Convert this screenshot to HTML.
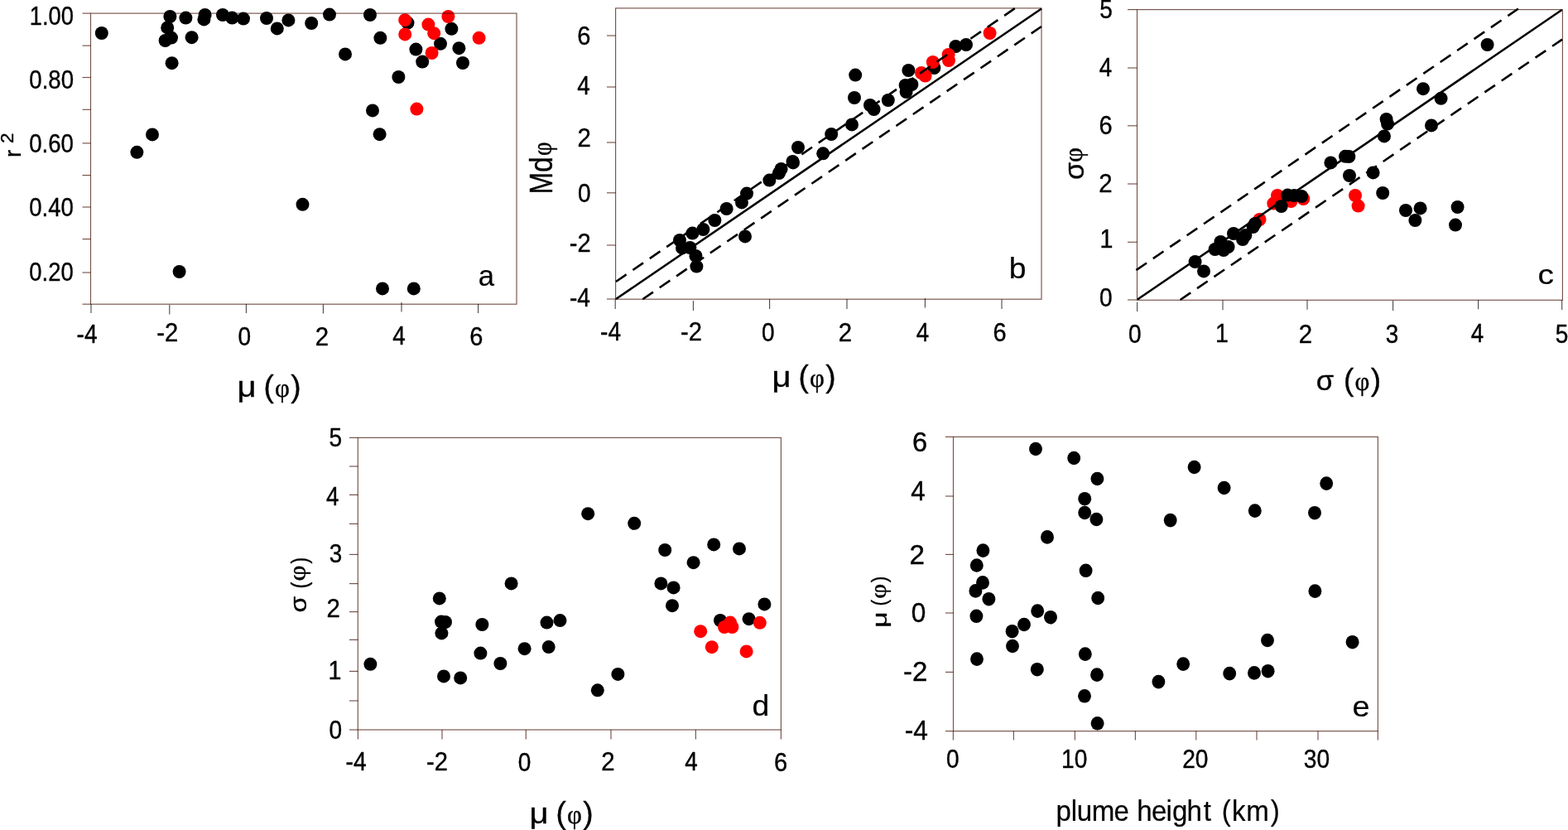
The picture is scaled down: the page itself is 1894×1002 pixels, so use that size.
<!DOCTYPE html>
<html><head><meta charset="utf-8"><title>figure</title>
<style>html,body{margin:0;padding:0;background:#fff;overflow:hidden}svg{display:block}
text{fill:#000;stroke:#000;stroke-width:0.4px;stroke-linejoin:round;font-family:"Liberation Sans",sans-serif;font-kerning:none;white-space:pre}
text.p{stroke-width:0.2px}
text.q{stroke-width:0.35px}</style>
</head><body>
<svg width="1894" height="1002" viewBox="0 0 1894 1002">
<rect width="1894" height="1002" fill="#fff"/>
<line x1="99.5" y1="16.1" x2="109.5" y2="16.1" stroke="#77524a" stroke-width="1.15"/>
<line x1="99.5" y1="55.1" x2="109.5" y2="55.1" stroke="#77524a" stroke-width="1.15"/>
<line x1="99.5" y1="93.5" x2="109.5" y2="93.5" stroke="#77524a" stroke-width="1.15"/>
<line x1="99.5" y1="132.3" x2="109.5" y2="132.3" stroke="#77524a" stroke-width="1.15"/>
<line x1="99.5" y1="172.9" x2="109.5" y2="172.9" stroke="#77524a" stroke-width="1.15"/>
<line x1="99.5" y1="211.6" x2="109.5" y2="211.6" stroke="#77524a" stroke-width="1.15"/>
<line x1="99.5" y1="250" x2="109.5" y2="250" stroke="#77524a" stroke-width="1.15"/>
<line x1="99.5" y1="288.6" x2="109.5" y2="288.6" stroke="#77524a" stroke-width="1.15"/>
<line x1="99.5" y1="329" x2="109.5" y2="329" stroke="#77524a" stroke-width="1.15"/>
<line x1="99.5" y1="367.2" x2="109.5" y2="367.2" stroke="#77524a" stroke-width="1.15"/>
<line x1="110" y1="367" x2="110" y2="378" stroke="#484848" stroke-width="1.1"/>
<line x1="204.8" y1="368" x2="204.8" y2="379.6" stroke="#484848" stroke-width="1.1"/>
<line x1="297.4" y1="367" x2="297.4" y2="378" stroke="#484848" stroke-width="1.1"/>
<line x1="390.4" y1="367.6" x2="390.4" y2="378.6" stroke="#484848" stroke-width="1.1"/>
<line x1="485" y1="365" x2="485" y2="376.6" stroke="#484848" stroke-width="1.1"/>
<line x1="577.6" y1="367" x2="577.6" y2="378" stroke="#484848" stroke-width="1.1"/>
<ellipse cx="122.8" cy="40" rx="8.0" ry="8.0" fill="#000"/>
<ellipse cx="205.4" cy="20" rx="8.0" ry="8.0" fill="#000"/>
<ellipse cx="202.2" cy="33.4" rx="8.0" ry="8.0" fill="#000"/>
<ellipse cx="199.6" cy="49" rx="8.0" ry="8.0" fill="#000"/>
<ellipse cx="207" cy="45.6" rx="8.0" ry="8.0" fill="#000"/>
<ellipse cx="207.6" cy="76.2" rx="8.0" ry="8.0" fill="#000"/>
<ellipse cx="224.4" cy="21.6" rx="8.0" ry="8.0" fill="#000"/>
<ellipse cx="231.6" cy="45.2" rx="8.0" ry="8.0" fill="#000"/>
<ellipse cx="247.6" cy="18" rx="8.0" ry="8.0" fill="#000"/>
<ellipse cx="246.4" cy="23.4" rx="8.0" ry="8.0" fill="#000"/>
<ellipse cx="269" cy="18" rx="8.0" ry="8.0" fill="#000"/>
<ellipse cx="280.4" cy="21.6" rx="8.0" ry="8.0" fill="#000"/>
<ellipse cx="294" cy="22.6" rx="8.0" ry="8.0" fill="#000"/>
<ellipse cx="322" cy="22" rx="8.0" ry="8.0" fill="#000"/>
<ellipse cx="334.8" cy="34.4" rx="8.0" ry="8.0" fill="#000"/>
<ellipse cx="348.4" cy="24.4" rx="8.0" ry="8.0" fill="#000"/>
<ellipse cx="376.2" cy="28" rx="8.0" ry="8.0" fill="#000"/>
<ellipse cx="184" cy="162.4" rx="8.0" ry="8.0" fill="#000"/>
<ellipse cx="165.4" cy="183.8" rx="8.0" ry="8.0" fill="#000"/>
<ellipse cx="398" cy="17.6" rx="8.0" ry="8.0" fill="#000"/>
<ellipse cx="447" cy="18" rx="8.0" ry="8.0" fill="#000"/>
<ellipse cx="417" cy="65.4" rx="8.0" ry="8.0" fill="#000"/>
<ellipse cx="459.4" cy="45.8" rx="8.0" ry="8.0" fill="#000"/>
<ellipse cx="492.5" cy="27.6" rx="8.0" ry="8.0" fill="#000"/>
<ellipse cx="545.4" cy="34.8" rx="8.0" ry="8.0" fill="#000"/>
<ellipse cx="532" cy="52.8" rx="8.0" ry="8.0" fill="#000"/>
<ellipse cx="502.4" cy="59.6" rx="8.0" ry="8.0" fill="#000"/>
<ellipse cx="554.4" cy="58.2" rx="8.0" ry="8.0" fill="#000"/>
<ellipse cx="510.2" cy="74.6" rx="8.0" ry="8.0" fill="#000"/>
<ellipse cx="559" cy="76" rx="8.0" ry="8.0" fill="#000"/>
<ellipse cx="481.4" cy="93" rx="8.0" ry="8.0" fill="#000"/>
<ellipse cx="450" cy="133.4" rx="8.0" ry="8.0" fill="#000"/>
<ellipse cx="458.6" cy="162.2" rx="8.0" ry="8.0" fill="#000"/>
<ellipse cx="365.5" cy="246.8" rx="8.0" ry="8.0" fill="#000"/>
<ellipse cx="216.6" cy="328" rx="8.0" ry="8.0" fill="#000"/>
<ellipse cx="462" cy="348.4" rx="8.0" ry="8.0" fill="#000"/>
<ellipse cx="499.8" cy="348.4" rx="8.0" ry="8.0" fill="#000"/>
<ellipse cx="489.2" cy="24.2" rx="8.0" ry="8.0" fill="#ff0000"/>
<ellipse cx="489.2" cy="41.4" rx="8.0" ry="8.0" fill="#ff0000"/>
<ellipse cx="541.4" cy="20" rx="8.0" ry="8.0" fill="#ff0000"/>
<ellipse cx="517.4" cy="29.6" rx="8.0" ry="8.0" fill="#ff0000"/>
<ellipse cx="524.2" cy="40.2" rx="8.0" ry="8.0" fill="#ff0000"/>
<ellipse cx="578.6" cy="45.8" rx="8.0" ry="8.0" fill="#ff0000"/>
<ellipse cx="521.6" cy="64" rx="8.0" ry="8.0" fill="#ff0000"/>
<ellipse cx="503.4" cy="131.6" rx="8.0" ry="8.0" fill="#ff0000"/>
<text transform="matrix(0.8587 0 0 1.0000 35.82 30.00)" font-size="31.80">1.00</text>
<text transform="matrix(0.8669 0 0 1.0000 35.32 107.10)" font-size="31.80">0.80</text>
<text transform="matrix(0.8669 0 0 1.0000 35.22 183.70)" font-size="31.80">0.60</text>
<text transform="matrix(0.8652 0 0 1.0000 35.33 260.90)" font-size="31.80">0.40</text>
<text transform="matrix(0.8618 0 0 1.0000 35.33 339.30)" font-size="31.80">0.20</text>
<text transform="matrix(0.8840 0 0 1.0000 92.59 414.10)" font-size="31.80">-4</text>
<text transform="matrix(0.9170 0 0 1.0000 189.32 412.40)" font-size="31.80">-2</text>
<text transform="matrix(0.8820 0 0 1.0000 287.40 416.80)" font-size="31.80">0</text>
<text transform="matrix(0.9250 0 0 1.0000 380.72 416.50)" font-size="31.80">2</text>
<text transform="matrix(0.8740 0 0 1.0000 474.26 416.10)" font-size="31.80">4</text>
<text transform="matrix(0.9130 0 0 1.0000 567.33 416.60)" font-size="31.80">6</text>
<text class="p" transform="matrix(0.9992 0 0 1.0000 577.63 345.36)" font-size="34.68">a</text>
<text class="q"><tspan x="286.50" y="479.00" font-size="34.5" textLength="23.06" lengthAdjust="spacingAndGlyphs">μ</tspan><tspan> </tspan><tspan x="318.41" y="479.00" font-size="37">(</tspan><tspan x="332.10" y="479.00" font-size="31" font-family="'Liberation Serif', serif">φ</tspan><tspan x="351.28" y="479.00" font-size="37">)</tspan></text>
<text class="q" transform="translate(25.10 0) rotate(-90)"><tspan x="-189.96" y="0.00" font-size="28">r</tspan><tspan> </tspan><tspan x="-172.93" y="-9.40" font-size="22.5">2</tspan></text>
<line x1="733" y1="43" x2="743.6" y2="43" stroke="#77524a" stroke-width="1.15"/>
<line x1="733" y1="105" x2="743.6" y2="105" stroke="#77524a" stroke-width="1.15"/>
<line x1="733" y1="172" x2="743.6" y2="172" stroke="#77524a" stroke-width="1.15"/>
<line x1="733" y1="232.8" x2="743.6" y2="232.8" stroke="#77524a" stroke-width="1.15"/>
<line x1="733" y1="296" x2="743.6" y2="296" stroke="#77524a" stroke-width="1.15"/>
<line x1="733" y1="361" x2="743.6" y2="361" stroke="#77524a" stroke-width="1.15"/>
<line x1="743.2" y1="361" x2="743.2" y2="373" stroke="#484848" stroke-width="1.1"/>
<line x1="837.4" y1="363" x2="837.4" y2="375" stroke="#484848" stroke-width="1.1"/>
<line x1="929.6" y1="361" x2="929.6" y2="373" stroke="#484848" stroke-width="1.1"/>
<line x1="1023" y1="361" x2="1023" y2="373" stroke="#484848" stroke-width="1.1"/>
<line x1="1117.4" y1="360" x2="1117.4" y2="371.6" stroke="#484848" stroke-width="1.1"/>
<line x1="1210" y1="361.6" x2="1210" y2="373" stroke="#484848" stroke-width="1.1"/>
<ellipse cx="964" cy="178" rx="8.0" ry="8.0" fill="#000"/>
<ellipse cx="957.5" cy="195" rx="8.0" ry="8.0" fill="#000"/>
<ellipse cx="994.2" cy="185.3" rx="8.0" ry="8.0" fill="#000"/>
<ellipse cx="1004.2" cy="162" rx="8.0" ry="8.0" fill="#000"/>
<ellipse cx="1029" cy="150.4" rx="8.0" ry="8.0" fill="#000"/>
<ellipse cx="1032" cy="118" rx="8.0" ry="8.0" fill="#000"/>
<ellipse cx="1033.2" cy="90.6" rx="8.0" ry="8.0" fill="#000"/>
<ellipse cx="1051" cy="127" rx="8.0" ry="8.0" fill="#000"/>
<ellipse cx="1055.6" cy="132" rx="8.0" ry="8.0" fill="#000"/>
<ellipse cx="1072.8" cy="121" rx="8.0" ry="8.0" fill="#000"/>
<ellipse cx="1094.6" cy="111" rx="8.0" ry="8.0" fill="#000"/>
<ellipse cx="1093.6" cy="103" rx="8.0" ry="8.0" fill="#000"/>
<ellipse cx="1101.4" cy="102" rx="8.0" ry="8.0" fill="#000"/>
<ellipse cx="1097.4" cy="85" rx="8.0" ry="8.0" fill="#000"/>
<ellipse cx="1128.4" cy="82" rx="8.0" ry="8.0" fill="#000"/>
<ellipse cx="1154.4" cy="56" rx="8.0" ry="8.0" fill="#000"/>
<ellipse cx="1167" cy="54" rx="8.0" ry="8.0" fill="#000"/>
<ellipse cx="821" cy="290" rx="8.0" ry="8.0" fill="#000"/>
<ellipse cx="824" cy="299.4" rx="8.0" ry="8.0" fill="#000"/>
<ellipse cx="833.4" cy="299" rx="8.0" ry="8.0" fill="#000"/>
<ellipse cx="836.4" cy="281.6" rx="8.0" ry="8.0" fill="#000"/>
<ellipse cx="840.4" cy="309" rx="8.0" ry="8.0" fill="#000"/>
<ellipse cx="841.4" cy="321.6" rx="8.0" ry="8.0" fill="#000"/>
<ellipse cx="849.4" cy="277" rx="8.0" ry="8.0" fill="#000"/>
<ellipse cx="863.4" cy="266" rx="8.0" ry="8.0" fill="#000"/>
<ellipse cx="877.6" cy="252" rx="8.0" ry="8.0" fill="#000"/>
<ellipse cx="896" cy="244.4" rx="8.0" ry="8.0" fill="#000"/>
<ellipse cx="902" cy="233.6" rx="8.0" ry="8.0" fill="#000"/>
<ellipse cx="900" cy="285.4" rx="8.0" ry="8.0" fill="#000"/>
<ellipse cx="929.4" cy="217.6" rx="8.0" ry="8.0" fill="#000"/>
<ellipse cx="941" cy="209" rx="8.0" ry="8.0" fill="#000"/>
<ellipse cx="943.6" cy="204" rx="8.0" ry="8.0" fill="#000"/>
<ellipse cx="958" cy="196.4" rx="8.0" ry="8.0" fill="#000"/>
<ellipse cx="1113" cy="88" rx="8.0" ry="8.0" fill="#ff0000"/>
<ellipse cx="1117.6" cy="91.6" rx="8.0" ry="8.0" fill="#ff0000"/>
<ellipse cx="1126.8" cy="75" rx="8.0" ry="8.0" fill="#ff0000"/>
<ellipse cx="1145.6" cy="66" rx="8.0" ry="8.0" fill="#ff0000"/>
<ellipse cx="1146" cy="73" rx="8.0" ry="8.0" fill="#ff0000"/>
<ellipse cx="1195.6" cy="40" rx="8.0" ry="8.0" fill="#ff0000"/>
<line x1="744" y1="361" x2="1258" y2="10.5" stroke="#000" stroke-width="2.6"/>
<line x1="744" y1="340" x2="1226" y2="10" stroke="#000" stroke-width="2.6" stroke-dasharray="15.3 9.42"/>
<line x1="776.3" y1="361.2" x2="1258" y2="32" stroke="#000" stroke-width="2.6" stroke-dasharray="15.3 9.42"/>
<text transform="matrix(0.9130 0 0 1.0000 697.23 54.20)" font-size="31.80">6</text>
<text transform="matrix(0.8740 0 0 1.0000 697.36 114.40)" font-size="31.80">4</text>
<text transform="matrix(0.9250 0 0 1.0000 697.42 176.80)" font-size="31.80">2</text>
<text transform="matrix(0.8820 0 0 1.0000 698.10 244.10)" font-size="31.80">0</text>
<text transform="matrix(0.9170 0 0 1.0000 687.82 303.90)" font-size="31.80">-2</text>
<text transform="matrix(0.8840 0 0 1.0000 687.99 369.50)" font-size="31.80">-4</text>
<text transform="matrix(0.8840 0 0 1.0000 725.09 411.10)" font-size="31.80">-4</text>
<text transform="matrix(0.9170 0 0 1.0000 821.92 411.10)" font-size="31.80">-2</text>
<text transform="matrix(0.8820 0 0 1.0000 920.00 411.50)" font-size="31.80">0</text>
<text transform="matrix(0.9250 0 0 1.0000 1012.82 411.50)" font-size="31.80">2</text>
<text transform="matrix(0.8740 0 0 1.0000 1106.66 411.50)" font-size="31.80">4</text>
<text transform="matrix(0.9130 0 0 1.0000 1199.53 411.80)" font-size="31.80">6</text>
<text class="p" transform="matrix(1.0511 0 0 1.0000 1218.69 336.25)" font-size="35.54">b</text>
<text class="q"><tspan x="932.50" y="467.20" font-size="34.5" textLength="23.06" lengthAdjust="spacingAndGlyphs">μ</tspan><tspan> </tspan><tspan x="964.41" y="467.20" font-size="37">(</tspan><tspan x="978.10" y="467.20" font-size="31" font-family="'Liberation Serif', serif">φ</tspan><tspan x="997.28" y="467.20" font-size="37">)</tspan></text>
<text transform="matrix(0 -0.87 1 0 667.2 232)"><tspan x="-2.6" font-size="39" textLength="30" lengthAdjust="spacingAndGlyphs">M</tspan><tspan x="27.5" font-size="39">d</tspan><tspan x="50.5" y="-1.5" font-size="33" font-family="'Liberation Serif', serif">φ</tspan></text>
<line x1="1362" y1="11.6" x2="1373.5" y2="11.6" stroke="#77524a" stroke-width="1.15"/>
<line x1="1362" y1="82" x2="1373.5" y2="82" stroke="#77524a" stroke-width="1.15"/>
<line x1="1362" y1="151.8" x2="1373.5" y2="151.8" stroke="#77524a" stroke-width="1.15"/>
<line x1="1362" y1="222" x2="1373.5" y2="222" stroke="#77524a" stroke-width="1.15"/>
<line x1="1362" y1="292.3" x2="1373.5" y2="292.3" stroke="#77524a" stroke-width="1.15"/>
<line x1="1362" y1="362" x2="1373.5" y2="362" stroke="#77524a" stroke-width="1.15"/>
<line x1="1373.6" y1="364.7" x2="1373.6" y2="376" stroke="#484848" stroke-width="1.1"/>
<line x1="1477" y1="362.5" x2="1477" y2="374.3" stroke="#484848" stroke-width="1.1"/>
<line x1="1579" y1="362.3" x2="1579" y2="373.7" stroke="#484848" stroke-width="1.1"/>
<line x1="1682.6" y1="363" x2="1682.6" y2="375" stroke="#484848" stroke-width="1.1"/>
<line x1="1785.6" y1="362" x2="1785.6" y2="373.2" stroke="#484848" stroke-width="1.1"/>
<line x1="1886.7" y1="362" x2="1886.7" y2="374" stroke="#484848" stroke-width="1.1"/>
<ellipse cx="1521.5" cy="265" rx="8.0" ry="8.0" fill="#ff0000"/>
<ellipse cx="1796.6" cy="54" rx="8.0" ry="8.0" fill="#000"/>
<ellipse cx="1719" cy="107.2" rx="8.0" ry="8.0" fill="#000"/>
<ellipse cx="1740.6" cy="118.8" rx="8.0" ry="8.0" fill="#000"/>
<ellipse cx="1674.6" cy="144" rx="8.0" ry="8.0" fill="#000"/>
<ellipse cx="1676" cy="149.6" rx="8.0" ry="8.0" fill="#000"/>
<ellipse cx="1729" cy="151.4" rx="8.0" ry="8.0" fill="#000"/>
<ellipse cx="1672" cy="164.4" rx="8.0" ry="8.0" fill="#000"/>
<ellipse cx="1625" cy="188.8" rx="8.0" ry="8.0" fill="#000"/>
<ellipse cx="1629.4" cy="189" rx="8.0" ry="8.0" fill="#000"/>
<ellipse cx="1607.4" cy="196.4" rx="8.0" ry="8.0" fill="#000"/>
<ellipse cx="1443.6" cy="316" rx="8.0" ry="8.0" fill="#000"/>
<ellipse cx="1454" cy="327.4" rx="8.0" ry="8.0" fill="#000"/>
<ellipse cx="1467.6" cy="301" rx="8.0" ry="8.0" fill="#000"/>
<ellipse cx="1474.4" cy="292" rx="8.0" ry="8.0" fill="#000"/>
<ellipse cx="1478" cy="302" rx="8.0" ry="8.0" fill="#000"/>
<ellipse cx="1483.6" cy="298" rx="8.0" ry="8.0" fill="#000"/>
<ellipse cx="1490" cy="282" rx="8.0" ry="8.0" fill="#000"/>
<ellipse cx="1501" cy="289" rx="8.0" ry="8.0" fill="#000"/>
<ellipse cx="1504.4" cy="284" rx="8.0" ry="8.0" fill="#000"/>
<ellipse cx="1513.6" cy="274" rx="8.0" ry="8.0" fill="#000"/>
<ellipse cx="1516" cy="270" rx="8.0" ry="8.0" fill="#000"/>
<ellipse cx="1630" cy="212" rx="8.0" ry="8.0" fill="#000"/>
<ellipse cx="1658.6" cy="208.4" rx="8.0" ry="8.0" fill="#000"/>
<ellipse cx="1670.2" cy="233" rx="8.0" ry="8.0" fill="#000"/>
<ellipse cx="1698" cy="254" rx="8.0" ry="8.0" fill="#000"/>
<ellipse cx="1715.6" cy="251.4" rx="8.0" ry="8.0" fill="#000"/>
<ellipse cx="1709.4" cy="266" rx="8.0" ry="8.0" fill="#000"/>
<ellipse cx="1760.6" cy="250" rx="8.0" ry="8.0" fill="#000"/>
<ellipse cx="1758" cy="271.6" rx="8.0" ry="8.0" fill="#000"/>
<ellipse cx="1538.3" cy="245.6" rx="8.0" ry="8.0" fill="#ff0000"/>
<ellipse cx="1543" cy="236" rx="8.0" ry="8.0" fill="#ff0000"/>
<ellipse cx="1559.5" cy="243" rx="8.0" ry="8.0" fill="#ff0000"/>
<ellipse cx="1574.3" cy="240" rx="8.0" ry="8.0" fill="#ff0000"/>
<ellipse cx="1637" cy="236" rx="8.0" ry="8.0" fill="#ff0000"/>
<ellipse cx="1640.6" cy="248.6" rx="8.0" ry="8.0" fill="#ff0000"/>
<ellipse cx="1547.7" cy="249" rx="8.0" ry="8.0" fill="#000"/>
<ellipse cx="1555.3" cy="235.6" rx="8.0" ry="8.0" fill="#000"/>
<ellipse cx="1563.3" cy="236" rx="8.0" ry="8.0" fill="#000"/>
<ellipse cx="1572.2" cy="237" rx="8.0" ry="8.0" fill="#000"/>
<line x1="1374" y1="361.5" x2="1886.5" y2="12" stroke="#000" stroke-width="2.6"/>
<line x1="1372.4" y1="326.1" x2="1834" y2="10.5" stroke="#000" stroke-width="2.6" stroke-dasharray="15.3 9.42"/>
<line x1="1425.6" y1="362" x2="1887" y2="47.6" stroke="#000" stroke-width="2.6" stroke-dasharray="15.3 9.42"/>
<text transform="matrix(0.8820 0 0 1.0000 1328.23 22.00)" font-size="31.80">5</text>
<text transform="matrix(0.8740 0 0 1.0000 1327.86 91.90)" font-size="31.80">4</text>
<text transform="matrix(0.9130 0 0 1.0000 1327.53 161.90)" font-size="31.80">6</text>
<text transform="matrix(0.9250 0 0 1.0000 1327.22 232.30)" font-size="31.80">2</text>
<text transform="matrix(0.9000 0 0 1.0000 1328.62 299.20)" font-size="31.80">1</text>
<text transform="matrix(0.8820 0 0 1.0000 1328.10 369.50)" font-size="31.80">0</text>
<text transform="matrix(0.8820 0 0 1.0000 1363.10 413.50)" font-size="31.80">0</text>
<text transform="matrix(0.9000 0 0 1.0000 1468.02 413.10)" font-size="31.80">1</text>
<text transform="matrix(0.9250 0 0 1.0000 1568.72 413.50)" font-size="31.80">2</text>
<text transform="matrix(0.8760 0 0 1.0000 1673.74 413.50)" font-size="31.80">3</text>
<text transform="matrix(0.8740 0 0 1.0000 1776.66 413.30)" font-size="31.80">4</text>
<text transform="matrix(0.8820 0 0 1.0000 1878.68 413.50)" font-size="31.80">5</text>
<text class="p" transform="matrix(1.1860 0 0 1.0000 1857.44 342.78)" font-size="32.86">c</text>
<text class="q"><tspan x="1589.74" y="471.00" font-size="32.5" textLength="21.46" lengthAdjust="spacingAndGlyphs">σ</tspan><tspan> </tspan><tspan x="1622.91" y="471.00" font-size="37">(</tspan><tspan x="1636.60" y="471.00" font-size="31" font-family="'Liberation Serif', serif">φ</tspan><tspan x="1655.78" y="471.00" font-size="37">)</tspan></text>
<text transform="matrix(0 -1 1 0 1309.2 216)"><tspan x="-1.1" font-size="34">σ</tspan><tspan x="20" y="-1.8" font-size="31" font-family="'Liberation Serif', serif">φ</tspan></text>
<line x1="422" y1="528.4" x2="432.3" y2="528.4" stroke="#77524a" stroke-width="1.15"/>
<line x1="422" y1="563" x2="432.3" y2="563" stroke="#77524a" stroke-width="1.15"/>
<line x1="422" y1="597.4" x2="432.3" y2="597.4" stroke="#77524a" stroke-width="1.15"/>
<line x1="422" y1="632.4" x2="432.3" y2="632.4" stroke="#77524a" stroke-width="1.15"/>
<line x1="422" y1="669.4" x2="432.3" y2="669.4" stroke="#77524a" stroke-width="1.15"/>
<line x1="422" y1="704.6" x2="432.3" y2="704.6" stroke="#77524a" stroke-width="1.15"/>
<line x1="422" y1="738.6" x2="432.3" y2="738.6" stroke="#77524a" stroke-width="1.15"/>
<line x1="422" y1="772.4" x2="432.3" y2="772.4" stroke="#77524a" stroke-width="1.15"/>
<line x1="422" y1="810.4" x2="432.3" y2="810.4" stroke="#77524a" stroke-width="1.15"/>
<line x1="422" y1="846" x2="432.3" y2="846" stroke="#77524a" stroke-width="1.15"/>
<line x1="422" y1="881" x2="432.3" y2="881" stroke="#77524a" stroke-width="1.15"/>
<line x1="432.4" y1="881" x2="432.4" y2="892.5" stroke="#77524a" stroke-width="1.15"/>
<line x1="534" y1="881" x2="534" y2="892.5" stroke="#77524a" stroke-width="1.15"/>
<line x1="635.3" y1="881" x2="635.3" y2="892.5" stroke="#77524a" stroke-width="1.15"/>
<line x1="738" y1="881" x2="738" y2="892.5" stroke="#77524a" stroke-width="1.15"/>
<line x1="840.4" y1="881" x2="840.4" y2="892.5" stroke="#77524a" stroke-width="1.15"/>
<line x1="943.4" y1="881" x2="943.4" y2="892.5" stroke="#77524a" stroke-width="1.15"/>
<ellipse cx="710.2" cy="620.2" rx="8.0" ry="8.0" fill="#000"/>
<ellipse cx="766.2" cy="631.8" rx="8.0" ry="8.0" fill="#000"/>
<ellipse cx="803.2" cy="664" rx="8.0" ry="8.0" fill="#000"/>
<ellipse cx="837.6" cy="679.2" rx="8.0" ry="8.0" fill="#000"/>
<ellipse cx="862.2" cy="657.4" rx="8.0" ry="8.0" fill="#000"/>
<ellipse cx="893" cy="662.4" rx="8.0" ry="8.0" fill="#000"/>
<ellipse cx="447.4" cy="801.8" rx="8.0" ry="8.0" fill="#000"/>
<ellipse cx="530.8" cy="722.4" rx="8.0" ry="8.0" fill="#000"/>
<ellipse cx="617.6" cy="704.4" rx="8.0" ry="8.0" fill="#000"/>
<ellipse cx="533" cy="750.6" rx="8.0" ry="8.0" fill="#000"/>
<ellipse cx="538" cy="751" rx="8.0" ry="8.0" fill="#000"/>
<ellipse cx="533.4" cy="764.4" rx="8.0" ry="8.0" fill="#000"/>
<ellipse cx="582.4" cy="754" rx="8.0" ry="8.0" fill="#000"/>
<ellipse cx="660.5" cy="751.6" rx="8.0" ry="8.0" fill="#000"/>
<ellipse cx="676.5" cy="749.1" rx="8.0" ry="8.0" fill="#000"/>
<ellipse cx="580.4" cy="788.6" rx="8.0" ry="8.0" fill="#000"/>
<ellipse cx="633.6" cy="783.2" rx="8.0" ry="8.0" fill="#000"/>
<ellipse cx="662.7" cy="781.1" rx="8.0" ry="8.0" fill="#000"/>
<ellipse cx="604.4" cy="801" rx="8.0" ry="8.0" fill="#000"/>
<ellipse cx="536" cy="816.4" rx="8.0" ry="8.0" fill="#000"/>
<ellipse cx="556.2" cy="818.4" rx="8.0" ry="8.0" fill="#000"/>
<ellipse cx="746.4" cy="813.9" rx="8.0" ry="8.0" fill="#000"/>
<ellipse cx="721.8" cy="833.3" rx="8.0" ry="8.0" fill="#000"/>
<ellipse cx="798.4" cy="704.4" rx="8.0" ry="8.0" fill="#000"/>
<ellipse cx="813.6" cy="709.4" rx="8.0" ry="8.0" fill="#000"/>
<ellipse cx="812" cy="731.2" rx="8.0" ry="8.0" fill="#000"/>
<ellipse cx="923.4" cy="729.4" rx="8.0" ry="8.0" fill="#000"/>
<ellipse cx="870" cy="749" rx="8.0" ry="8.0" fill="#000"/>
<ellipse cx="904.6" cy="747.2" rx="8.0" ry="8.0" fill="#000"/>
<ellipse cx="882" cy="751.6" rx="8.0" ry="8.0" fill="#ff0000"/>
<ellipse cx="875" cy="757" rx="8.0" ry="8.0" fill="#ff0000"/>
<ellipse cx="884.4" cy="757" rx="8.0" ry="8.0" fill="#ff0000"/>
<ellipse cx="917.8" cy="751.8" rx="8.0" ry="8.0" fill="#ff0000"/>
<ellipse cx="846.2" cy="762.2" rx="8.0" ry="8.0" fill="#ff0000"/>
<ellipse cx="859.8" cy="781.2" rx="8.0" ry="8.0" fill="#ff0000"/>
<ellipse cx="901.6" cy="786.4" rx="8.0" ry="8.0" fill="#ff0000"/>
<text transform="matrix(0.8820 0 0 1.0000 397.53 538.80)" font-size="31.80">5</text>
<text transform="matrix(0.8740 0 0 1.0000 394.06 610.30)" font-size="31.80">4</text>
<text transform="matrix(0.8760 0 0 1.0000 397.64 678.70)" font-size="31.80">3</text>
<text transform="matrix(0.9250 0 0 1.0000 394.62 744.90)" font-size="31.80">2</text>
<text transform="matrix(0.9000 0 0 1.0000 396.62 820.30)" font-size="31.80">1</text>
<text transform="matrix(0.8820 0 0 1.0000 397.50 892.10)" font-size="31.80">0</text>
<text transform="matrix(0.8840 0 0 1.0000 417.59 930.40)" font-size="31.80">-4</text>
<text transform="matrix(0.9170 0 0 1.0000 515.12 930.40)" font-size="31.80">-2</text>
<text transform="matrix(0.8820 0 0 1.0000 625.75 930.80)" font-size="31.80">0</text>
<text transform="matrix(0.9250 0 0 1.0000 726.32 930.40)" font-size="31.80">2</text>
<text transform="matrix(0.8740 0 0 1.0000 827.36 930.40)" font-size="31.80">4</text>
<text transform="matrix(0.9130 0 0 1.0000 935.03 930.80)" font-size="31.80">6</text>
<text class="p" transform="matrix(1.0801 0 0 1.0000 908.53 863.96)" font-size="34.59">d</text>
<text class="q"><tspan x="639.50" y="994.00" font-size="34.5" textLength="23.06" lengthAdjust="spacingAndGlyphs">μ</tspan><tspan> </tspan><tspan x="671.41" y="994.00" font-size="37">(</tspan><tspan x="685.10" y="994.00" font-size="31" font-family="'Liberation Serif', serif">φ</tspan><tspan x="704.28" y="994.00" font-size="37">)</tspan></text>
<text class="q" transform="translate(370.30 0) rotate(-90)"><tspan x="-739.64" y="0.00" font-size="28" textLength="19.65" lengthAdjust="spacingAndGlyphs">σ</tspan><tspan> </tspan><tspan x="-710.55" y="0.30" font-size="28.2" textLength="7.79" lengthAdjust="spacingAndGlyphs">(</tspan><tspan x="-701.58" y="-1.20" font-size="28.8" font-family="'Liberation Serif', serif" textLength="19.12" lengthAdjust="spacingAndGlyphs">φ</tspan><tspan x="-680.54" y="0.30" font-size="28.2" textLength="7.79" lengthAdjust="spacingAndGlyphs">)</tspan></text>
<line x1="1142" y1="527.4" x2="1151.5" y2="527.4" stroke="#77524a" stroke-width="1.15"/>
<line x1="1142" y1="599" x2="1151.5" y2="599" stroke="#77524a" stroke-width="1.15"/>
<line x1="1142" y1="669.4" x2="1151.5" y2="669.4" stroke="#77524a" stroke-width="1.15"/>
<line x1="1142" y1="740" x2="1151.5" y2="740" stroke="#77524a" stroke-width="1.15"/>
<line x1="1142" y1="811.4" x2="1151.5" y2="811.4" stroke="#77524a" stroke-width="1.15"/>
<line x1="1142" y1="882.6" x2="1151.5" y2="882.6" stroke="#77524a" stroke-width="1.15"/>
<line x1="1151.4" y1="882.6" x2="1151.4" y2="893.4" stroke="#77524a" stroke-width="1.15"/>
<line x1="1224.4" y1="882.6" x2="1224.4" y2="893.4" stroke="#77524a" stroke-width="1.15"/>
<line x1="1298.4" y1="882.6" x2="1298.4" y2="893.4" stroke="#77524a" stroke-width="1.15"/>
<line x1="1371.4" y1="882.6" x2="1371.4" y2="893.4" stroke="#77524a" stroke-width="1.15"/>
<line x1="1444.8" y1="882.6" x2="1444.8" y2="893.4" stroke="#77524a" stroke-width="1.15"/>
<line x1="1518" y1="882.6" x2="1518" y2="893.4" stroke="#77524a" stroke-width="1.15"/>
<line x1="1592" y1="882.6" x2="1592" y2="893.4" stroke="#77524a" stroke-width="1.15"/>
<line x1="1664.4" y1="882.6" x2="1664.4" y2="893.4" stroke="#77524a" stroke-width="1.15"/>
<ellipse cx="1251" cy="542" rx="7.95" ry="8.3" fill="#000"/>
<ellipse cx="1297.2" cy="553" rx="7.95" ry="8.3" fill="#000"/>
<ellipse cx="1325.4" cy="578" rx="7.95" ry="8.3" fill="#000"/>
<ellipse cx="1310.2" cy="602.2" rx="7.95" ry="8.3" fill="#000"/>
<ellipse cx="1310.2" cy="619" rx="7.95" ry="8.3" fill="#000"/>
<ellipse cx="1324.4" cy="627" rx="7.95" ry="8.3" fill="#000"/>
<ellipse cx="1413.7" cy="628.1" rx="7.95" ry="8.3" fill="#000"/>
<ellipse cx="1265" cy="648.4" rx="7.95" ry="8.3" fill="#000"/>
<ellipse cx="1187.4" cy="664.6" rx="7.95" ry="8.3" fill="#000"/>
<ellipse cx="1179.8" cy="682.5" rx="7.95" ry="8.3" fill="#000"/>
<ellipse cx="1311.6" cy="688.8" rx="7.95" ry="8.3" fill="#000"/>
<ellipse cx="1442.6" cy="564" rx="7.95" ry="8.3" fill="#000"/>
<ellipse cx="1478.6" cy="589" rx="7.95" ry="8.3" fill="#000"/>
<ellipse cx="1515.8" cy="616.6" rx="7.95" ry="8.3" fill="#000"/>
<ellipse cx="1588" cy="619.2" rx="7.95" ry="8.3" fill="#000"/>
<ellipse cx="1602.2" cy="583.6" rx="7.95" ry="8.3" fill="#000"/>
<ellipse cx="1187" cy="703.4" rx="7.95" ry="8.3" fill="#000"/>
<ellipse cx="1178.4" cy="713.4" rx="7.95" ry="8.3" fill="#000"/>
<ellipse cx="1194.4" cy="723.2" rx="7.95" ry="8.3" fill="#000"/>
<ellipse cx="1179.4" cy="743.8" rx="7.95" ry="8.3" fill="#000"/>
<ellipse cx="1253.2" cy="737.6" rx="7.95" ry="8.3" fill="#000"/>
<ellipse cx="1269" cy="745.2" rx="7.95" ry="8.3" fill="#000"/>
<ellipse cx="1237" cy="754" rx="7.95" ry="8.3" fill="#000"/>
<ellipse cx="1222.6" cy="762.2" rx="7.95" ry="8.3" fill="#000"/>
<ellipse cx="1223" cy="780" rx="7.95" ry="8.3" fill="#000"/>
<ellipse cx="1180" cy="795.6" rx="7.95" ry="8.3" fill="#000"/>
<ellipse cx="1252.8" cy="808.2" rx="7.95" ry="8.3" fill="#000"/>
<ellipse cx="1326.2" cy="722" rx="7.95" ry="8.3" fill="#000"/>
<ellipse cx="1310.8" cy="789.6" rx="7.95" ry="8.3" fill="#000"/>
<ellipse cx="1325" cy="814.6" rx="7.95" ry="8.3" fill="#000"/>
<ellipse cx="1310" cy="840.3" rx="7.95" ry="8.3" fill="#000"/>
<ellipse cx="1399.4" cy="823.1" rx="7.95" ry="8.3" fill="#000"/>
<ellipse cx="1325.6" cy="873.3" rx="7.95" ry="8.3" fill="#000"/>
<ellipse cx="1588.4" cy="713.6" rx="7.95" ry="8.3" fill="#000"/>
<ellipse cx="1531" cy="773" rx="7.95" ry="8.3" fill="#000"/>
<ellipse cx="1633.6" cy="775.2" rx="7.95" ry="8.3" fill="#000"/>
<ellipse cx="1429.2" cy="801.6" rx="7.95" ry="8.3" fill="#000"/>
<ellipse cx="1485.2" cy="813.1" rx="7.95" ry="8.3" fill="#000"/>
<ellipse cx="1515" cy="812.4" rx="7.95" ry="8.3" fill="#000"/>
<ellipse cx="1531.6" cy="810.2" rx="7.95" ry="8.3" fill="#000"/>
<text transform="matrix(0.9625 0 0 1.0000 1101.99 544.70)" font-size="34.00">6</text>
<text transform="matrix(0.9214 0 0 1.0000 1100.19 604.30)" font-size="34.00">4</text>
<text transform="matrix(0.9752 0 0 1.0000 1098.38 680.90)" font-size="34.00">2</text>
<text transform="matrix(0.9298 0 0 1.0000 1100.71 751.30)" font-size="34.00">0</text>
<text transform="matrix(0.9667 0 0 1.0000 1090.98 821.50)" font-size="34.00">-2</text>
<text transform="matrix(0.9319 0 0 1.0000 1092.67 892.90)" font-size="34.00">-4</text>
<text transform="matrix(0.8820 0 0 1.0000 1142.90 926.50)" font-size="31.80">0</text>
<text transform="matrix(0.8860 0 0 1.0000 1282.01 926.50)" font-size="31.80">10</text>
<text transform="matrix(0.8860 0 0 1.0000 1428.17 926.50)" font-size="31.80">20</text>
<text transform="matrix(0.8860 0 0 1.0000 1574.84 926.50)" font-size="31.80">30</text>
<text class="p" transform="matrix(1.0938 0 0 1.0000 1633.49 864.56)" font-size="34.68">e</text>
<text class="p" transform="matrix(0.92 0 0 1 0 990.8)" x="1386.3 1406.2 1413.9 1433.5 1462.5 1482.5 1492.6 1511.9 1531.1 1539.0 1558.2 1580.3 1590.3 1604.1 1617.5 1636.2 1668.3" font-size="36">plume height (km)</text>
<text class="q" transform="translate(1070.80 0) rotate(-90)"><tspan x="-757.76" y="0.00" font-size="24.8" textLength="19.29" lengthAdjust="spacingAndGlyphs">μ</tspan><tspan> </tspan><tspan x="-731.62" y="0.40" font-size="26.1" textLength="7.61" lengthAdjust="spacingAndGlyphs">(</tspan><tspan x="-722.70" y="-0.80" font-size="26.6" font-family="'Liberation Serif', serif" textLength="17.96" lengthAdjust="spacingAndGlyphs">φ</tspan><tspan x="-703.13" y="0.40" font-size="26.1" textLength="7.61" lengthAdjust="spacingAndGlyphs">)</tspan></text>
<rect x="109.5" y="16.1" width="514.5" height="351.1" fill="none" stroke="#77524a" stroke-width="1.15" style="mix-blend-mode:multiply"/>
<rect x="743.6" y="9.9" width="514.4" height="351.3" fill="none" stroke="#77524a" stroke-width="1.15" style="mix-blend-mode:multiply"/>
<rect x="1373.5" y="11.6" width="513.9" height="350.7" fill="none" stroke="#77524a" stroke-width="1.15" style="mix-blend-mode:multiply"/>
<rect x="432.3" y="528.4" width="511.1" height="352.6" fill="none" stroke="#77524a" stroke-width="1.15" style="mix-blend-mode:multiply"/>
<rect x="1151.5" y="527.4" width="512.9" height="355.2" fill="none" stroke="#77524a" stroke-width="1.15" style="mix-blend-mode:multiply"/>
</svg>
</body></html>
